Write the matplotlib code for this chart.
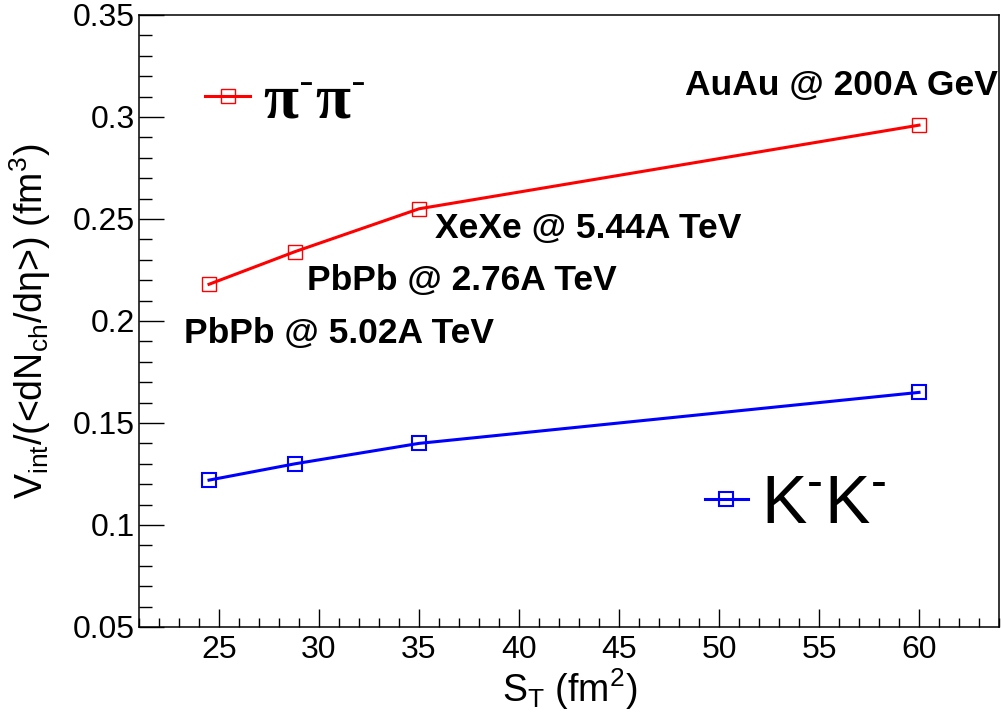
import matplotlib
matplotlib.use("Agg")
import matplotlib.pyplot as plt
from matplotlib.ticker import MultipleLocator, FuncFormatter

plt.rcParams["font.family"] = ["Liberation Sans", "DejaVu Sans"]
plt.rcParams["mathtext.fontset"] = "custom"
plt.rcParams["mathtext.rm"] = "Liberation Sans"
plt.rcParams["mathtext.it"] = "Liberation Sans:italic"
plt.rcParams["mathtext.bf"] = "Liberation Sans:bold"

# transverse area S_T (fm^2) for each system
st = [24.5, 28.8, 35.0, 60.0]
v_pipi = [0.218, 0.234, 0.255, 0.296]
v_kk = [0.122, 0.130, 0.140, 0.165]

systems = ["PbPb @ 5.02A TeV", "PbPb @ 2.76A TeV", "XeXe @ 5.44A TeV", "AuAu @ 200A GeV"]
label_x = [23.25, 29.4, 35.8, 48.3]
label_y = [0.1892, 0.2152, 0.2407, 0.3108]

fig = plt.figure(figsize=(10.01, 7.21), dpi=100)
ax = fig.add_axes([0.1389, 0.1304, 0.8591, 0.8488])

l_pi, = ax.plot(st, v_pipi, color="red", lw=2.2, marker="s", ms=9.5,
                mfc="none", mec="red", mew=1.0)
l_k, = ax.plot(st, v_kk, color="blue", lw=2.2, marker="s", ms=9.5,
               mfc="none", mec="blue", mew=1.5)

for name, x, y in zip(systems, label_x, label_y):
    ax.text(x, y, name, fontsize=25.5, fontweight="bold", ha="left", va="baseline")

ax.set_xlim(21, 64)
ax.set_ylim(0.05, 0.35)

ax.xaxis.set_major_locator(MultipleLocator(5))
ax.xaxis.set_minor_locator(MultipleLocator(1))
ax.yaxis.set_major_locator(MultipleLocator(0.05))
ax.yaxis.set_minor_locator(MultipleLocator(0.01))
ax.yaxis.set_major_formatter(FuncFormatter(lambda v, p: "%g" % round(v, 3)))

ax.tick_params(axis="both", which="both", direction="in", width=1.0,
               top=False, right=False, labelsize=23)
ax.tick_params(axis="x", which="major", length=13, pad=6)
ax.tick_params(axis="x", which="minor", length=6.5)
ax.tick_params(axis="y", which="major", length=18, pad=3)
ax.tick_params(axis="y", which="minor", length=9)
for s in ax.spines.values():
    s.set_linewidth(1.1)

ax.set_xlabel(r"S$_{\mathrm{T}}$ (fm$^{2}$)", fontsize=27)
ax.set_ylabel(r"V$_{\mathrm{int}}$/(<dN$_{\mathrm{ch}}$/dη>) (fm$^{3}$)", fontsize=27)
ax.xaxis.set_label_coords(0.501, -0.065)
ax.yaxis.set_label_coords(-0.100, 0.5)

# short superscript dash like the ROOT "#pi^{-}"
dash = r"$^{\mathrm{‐}}$"
leg1 = ax.legend([l_pi], ["π" + dash + "π" + dash], loc="center left",
                 bbox_to_anchor=(0.077, 0.856), frameon=False,
                 prop={"family": ["Liberation Serif", "DejaVu Serif"], "size": 46,
                       "weight": "bold"},
                 handlelength=0.7, handletextpad=0.2, borderpad=0, borderaxespad=0)
ax.add_artist(leg1)
ax.legend([l_k], ["K" + dash + "K" + dash], loc="center left",
          bbox_to_anchor=(0.658, 0.200), frameon=False,
          prop={"size": 49},
          handlelength=0.63, handletextpad=0.2, borderpad=0, borderaxespad=0)

fig.savefig("out.png", dpi=100)
